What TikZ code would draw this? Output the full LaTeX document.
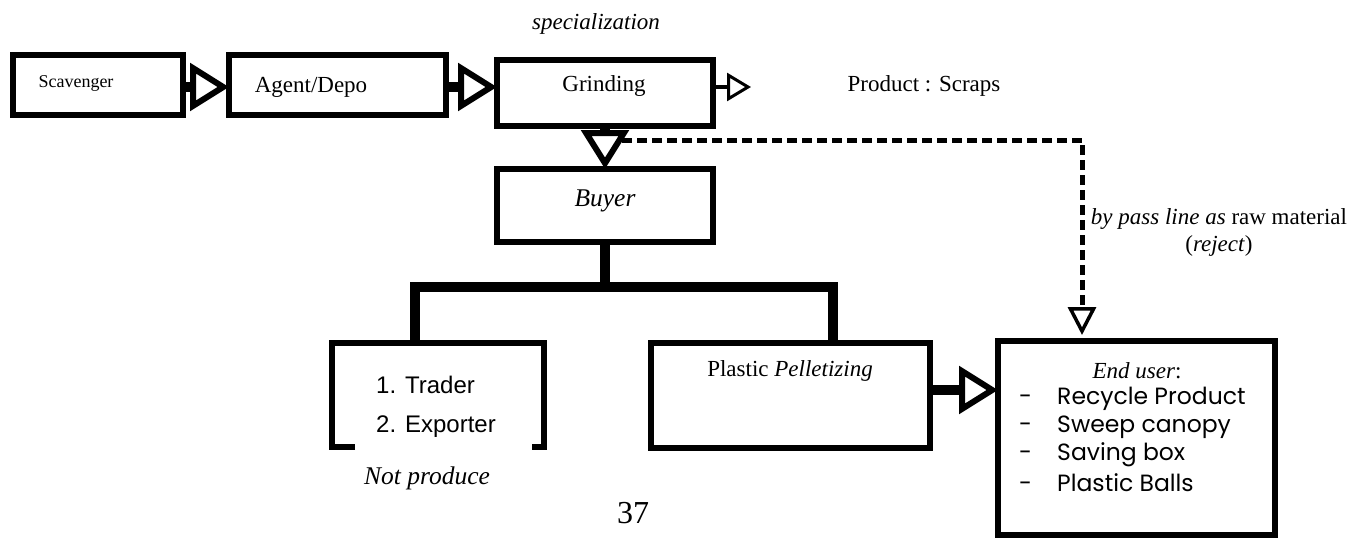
\documentclass[tikz,border=0pt]{standalone}
\usepackage{fontspec}
\setmainfont{Liberation Serif}
\newfontfamily\arialf{Liberation Sans}
\newfontfamily\gothicf{Poppins}
\usetikzlibrary{arrows.meta}
\tikzset{
  box/.style={draw, line width=5.5pt, inner sep=0pt, outer sep=0pt, line join=miter},
  frame/.style={inner sep=0pt, outer sep=0pt},
  txt/.style={inner sep=0pt, font=\fontsize{23}{27}\selectfont},
  bigarrow/.style={line width=10pt, line join=miter,
    -{Triangle[open, length=39pt, width=47pt, line width=6pt]}},
  smallarrow/.style={line width=4pt, line join=miter,
    -{Triangle[open, length=24pt, width=28pt, line width=3pt]}},
  dasharrow/.style={line width=5pt, dash pattern=on 10pt off 5pt, line join=miter,
    -{Triangle[open, length=28pt, width=28pt, line width=3.5pt]}},
  treeline/.style={line width=10pt, line join=miter},
  listitem/.style={inner sep=0pt, anchor=west, font=\gothicf\fontsize{23.5}{27}\selectfont}
}
\begin{document}
\begin{tikzpicture}[x=1pt,y=-1pt]
\useasboundingbox (0,0) rectangle (1365,539);
% boxes
\node[box, minimum width=170pt, minimum height=60pt] (scav) at (98,85) {};
\node[box, minimum width=217pt, minimum height=60pt] (agent) at (337.5,85) {};
\node[box, minimum width=216pt, minimum height=66pt] (grind) at (605,93) {};
\node[box, minimum width=216pt, minimum height=73pt] (buyer) at (605,205.5) {};
\node[frame, minimum width=212pt, minimum height=104pt] (trader) at (438,395) {};
\draw[line width=5.5pt, line join=miter]
  ([xshift=23pt]trader.south west) -- (trader.south west) -- (trader.north west)
  -- (trader.north east) -- (trader.south east) -- ([xshift=-12pt]trader.south east);
\node[box, minimum width=279pt, minimum height=105pt] (pellet) at (790.5,395.5) {};
\node[box, minimum width=277pt, minimum height=194pt] (enduser) at (1136.5,438) {};
% texts
\node[txt, font=\fontsize{18}{22}\selectfont] (scavtxt) at (76,83) {Scavenger};
\node[txt] (agenttxt) at (311,87) {Agent/Depo};
\node[txt] (grindtxt) at (604,86) {Grinding};
\node[txt, font=\itshape\fontsize{25.5}{30}\selectfont] (buyertxt) at (605,201) {Buyer};
\node[txt] (spec) at (596,24) {\itshape specialization};
\node[txt] (prod) at (924,86) {Product : Scraps};
\node[txt, anchor=west, font=\arialf\fontsize{24}{28}\selectfont] (tr1) at (376,385) {1. Trader};
\node[txt, anchor=west, font=\arialf\fontsize{24}{28}\selectfont] (tr2) at (376,427) {2. Exporter};
\node[txt, font=\itshape\fontsize{25.5}{30}\selectfont] (notprod) at (427,478) {Not produce};
\node[txt, font=\fontsize{32}{36}\selectfont] (pagenum) at (633,513) {37};
\node[txt] (pellettxt) at (790,371) {Plastic \textit{Pelletizing}};
\node[txt, align=center, font=\fontsize{23}{27}\selectfont] (bypass) at (1219,232)
  {\textit{by pass line as} raw material\\(\textit{reject})};
\node[txt] (endusertxt) at (1137,371) {\textit{End user}:};
\node[listitem] (li1) at (1019,399) {\makebox[38pt][l]{-}Recycle Product};
\node[listitem] (li2) at (1019,427) {\makebox[38pt][l]{-}Sweep canopy};
\node[listitem] (li3) at (1019,455) {\makebox[38pt][l]{-}Saving box};
\node[listitem] (li4) at (1019,483) {\makebox[38pt][l]{-}Plastic Balls};
% connectors
\draw[bigarrow] (scav.east |- 0,87) -- (agent.west |- 0,87);
\draw[bigarrow] (agent.east |- 0,87) -- (grind.west |- 0,87);
\draw[bigarrow] (grind.south) -- (buyer.north);
\coordinate (scrapend) at (751,87);
\draw[smallarrow] (grind.east |- scrapend) -- (scrapend);
\coordinate (dstart) at (622,140);
\coordinate (dcorner) at (1082,140);
\draw[dasharrow, shorten >=6pt] (dstart) -- (dcorner) -- (dcorner |- enduser.north);
\coordinate (tl) at (415,287);
\coordinate (tr) at (833,287);
\draw[treeline] (buyer.south) -- (buyer.south |- tl);
\draw[treeline] (tl |- trader.north) -- (tl) -- (tr) -- (tr |- pellet.north);
\draw[bigarrow] ([yshift=5.5pt]pellet.east) -- ([yshift=5.5pt]pellet.east -| enduser.west);
\end{tikzpicture}
\end{document}
